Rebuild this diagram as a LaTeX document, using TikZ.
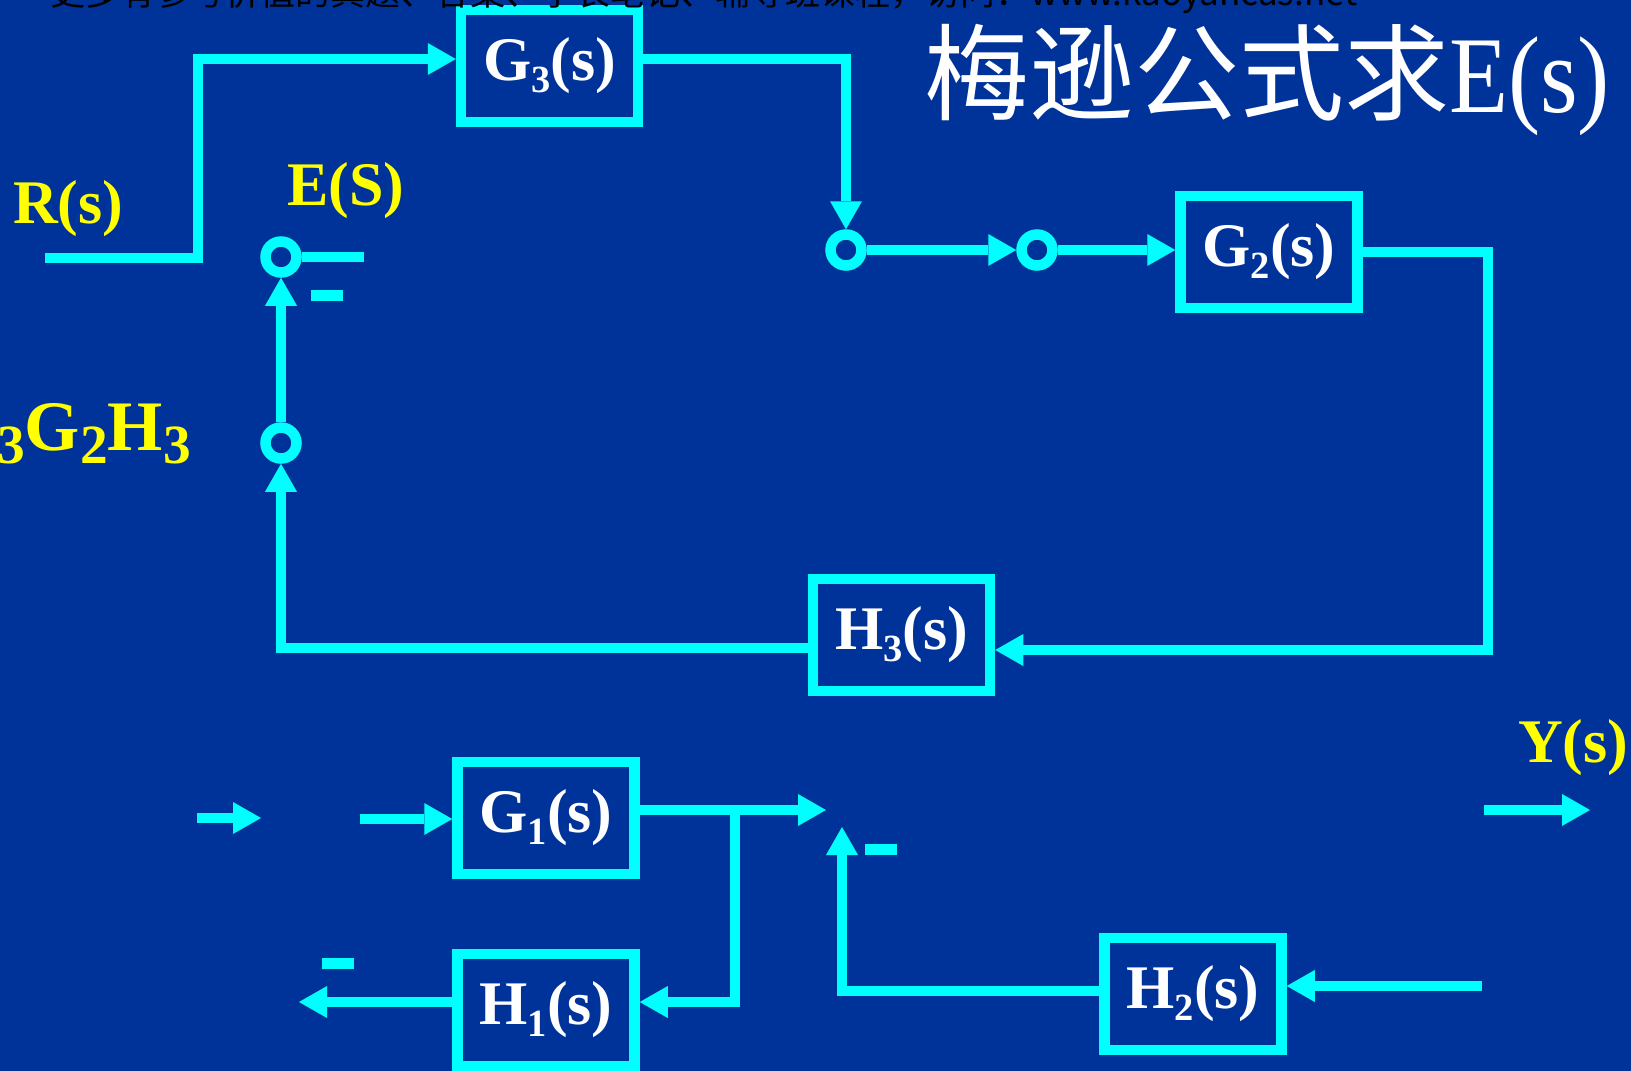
\documentclass[tikz,border=0pt]{standalone}
\usepackage{fontspec}
\setmainfont{Liberation Serif}
\newfontfamily\cjk{Noto Sans CJK SC}
\usetikzlibrary{arrows.meta}
\definecolor{bgblue}{RGB}{0,51,153}
\definecolor{cy}{RGB}{0,255,255}
\definecolor{yl}{RGB}{255,255,0}
\newcommand\sbs[2][0.62]{\raisebox{-0.19em}{\scalebox{#1}{#2}}}
\tikzset{
 wire/.style={draw=cy, line width=10.5pt},
 arr/.style={wire, -{Triangle[length=28pt,width=32pt,line width=0pt]}},
 blk/.style={draw=cy, line width=10.5pt, fill=bgblue, minimum width=177pt, minimum height=112pt, inner sep=0pt, text=white, font=\fontsize{62}{70}\selectfont\bfseries},
 junc/.style={circle, draw=cy, line width=10.5pt, fill=bgblue, minimum size=31pt, inner sep=0pt},
 ylab/.style={text=yl, font=\fontsize{62}{70}\selectfont\bfseries, inner sep=0pt, anchor=base west},
}
\begin{document}
\begin{tikzpicture}[x=1pt,y=-1pt]
\useasboundingbox (0,0) rectangle (1631,1071);
\clip (0,0) rectangle (1631,1071);
\fill[bgblue] (0,0) rectangle (1631,1071);

% blocks
\node[blk] (G3) at (549.5,66) {G\sbs{3}(s)};
\node[blk] (G2) at (1269,252) {G\sbs{2}(s)};
\node[blk] (H3) at (901.5,635) {H\sbs{3}(s)};
\node[blk] (G1) at (546,818) {G\sbs{1}(s)};
\node[blk] (H1) at (546,1010) {H\sbs{1}(s)};
\node[blk] (H2) at (1193,994) {H\sbs{2}(s)};

% junctions
\node[junc] (C1) at (846,250) {};
\node[junc] (C2) at (1037,250) {};
\node[junc] (C3) at (281,257) {};
\node[junc] (C4) at (281,443) {};

% labels
\node[ylab] (R) at (13,223) {R(s)};
\node[ylab] (E) at (287,205) {E(S)};
\node[ylab] (Y) at (1518,762) {Y(s)};
\node[text=yl, font=\fontsize{71}{80}\selectfont\bfseries, inner sep=0pt, anchor=base east] (L) at (191,450) {G\sbs[0.78]{3}G\sbs[0.78]{2}H\sbs[0.78]{3}};
\node[anchor=base west, inner sep=0pt, text=white] (T) at (924,112) {\fontsize{105}{110}\selectfont{\cjk 梅逊公式求}\scalebox{0.92}[1.04]{E(s)}};

% top connectors
\coordinate (rs) at (45,258);
\coordinate (rc) at (198,59);
\draw[arr] (rs) -| (rc) -- (rc -| G3.west);
\coordinate (g3c) at (846,59);
\draw[arr] (G3.east |- g3c) -- (g3c) -- (C1.north);
\draw[arr] (C1) -- (C2);
\draw[arr] (C2) -- (C2 -| G2.west);
\coordinate (rc2) at (1488,650);
\draw[arr] (G2.east) -| (rc2) -- (rc2 -| H3.east);
\coordinate (h3l) at (281,648);
\draw[arr] (h3l -| H3.west) -- (h3l) -- (C4.south);
\draw[arr] (C4) -- (C3);
\coordinate (es) at (364,257);
\draw[wire] (C3) -- (es);
\fill[cy] (311,290) rectangle (343,301);

% bottom connectors
\coordinate (a1s) at (197,818);
\coordinate (a1e) at (261,818);
\draw[arr] (a1s) -- (a1e);
\coordinate (g1i) at (360,819);
\draw[arr] (g1i) -- (g1i -| G1.west);
\coordinate (g1o) at (826,810);
\draw[arr] (g1o -| G1.east) -- (g1o);
\coordinate (br) at (735,810);
\coordinate (br2) at (735,1002);
\draw[arr] (br) -- (br2) -- (br2 -| H1.east);
\coordinate (h1o) at (299,1002);
\draw[arr] (h1o -| H1.west) -- (h1o);
\fill[cy] (322,958) rectangle (354,969);
\coordinate (h2i) at (1482,986);
\draw[arr] (h2i) -- (h2i -| H2.east);
\coordinate (h2c) at (842,991);
\coordinate (h2t) at (842,827);
\draw[arr] (h2c -| H2.west) -- (h2c) -- (h2t);
\fill[cy] (865,844) rectangle (897,855);
\coordinate (ys) at (1484,810);
\coordinate (ye) at (1590,810);
\draw[arr] (ys) -- (ye);

% watermark (clipped at top)
\node[anchor=base west, inner sep=0pt, font=\cjk\fontsize{35}{40}\selectfont, text=black] (wm) at (50,5) {更多有参考价值的真题、答案、学长笔记、辅导班课程，访问：www.kaoyancas.net};
\end{tikzpicture}
\end{document}
